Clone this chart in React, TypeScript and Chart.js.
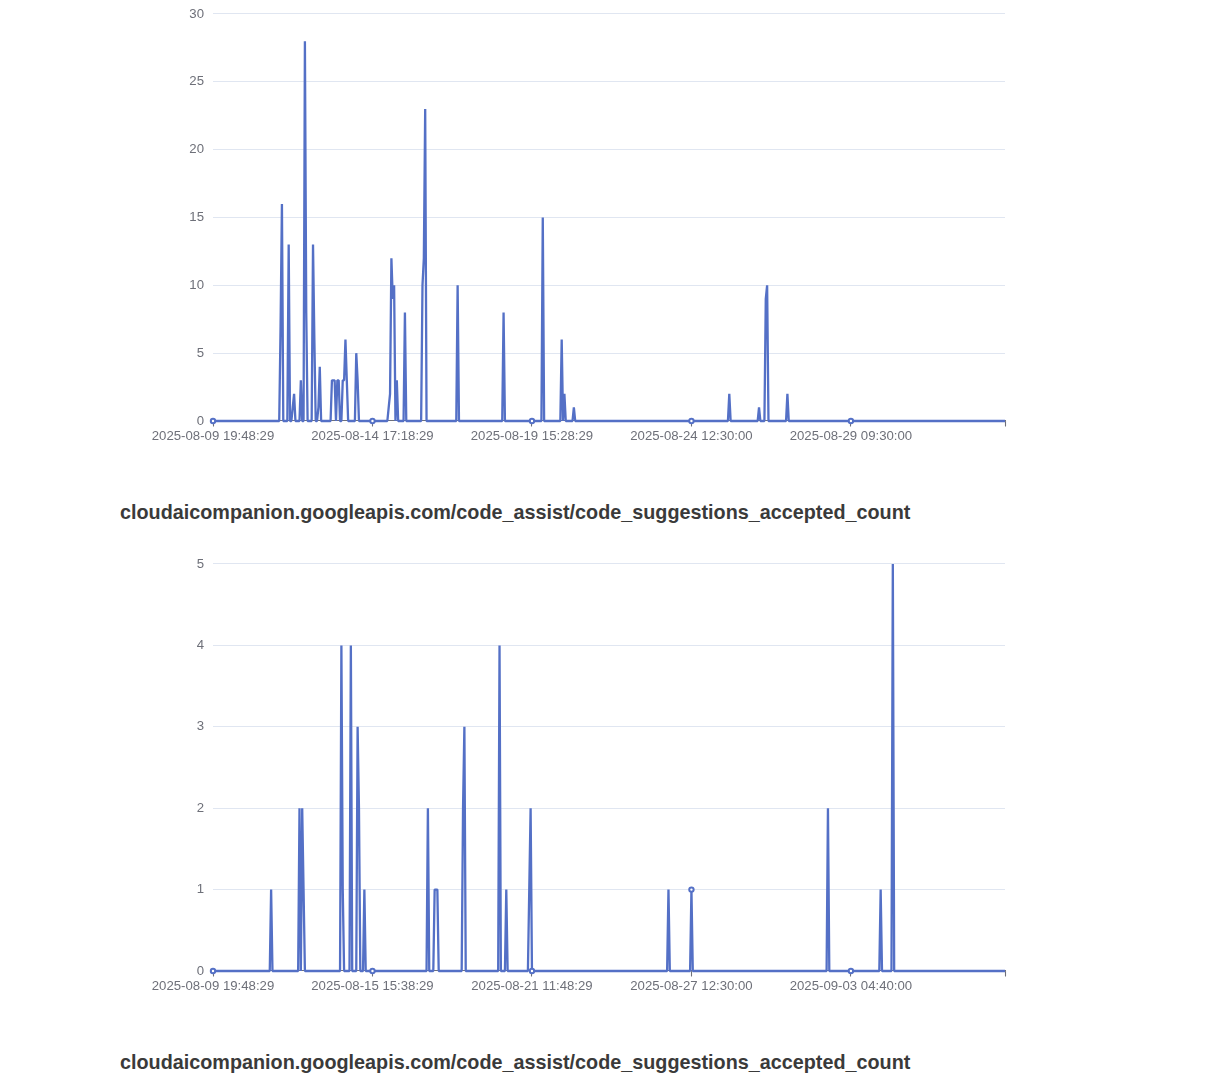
import React, { useEffect, useRef } from "react";
import { Chart, registerables } from "chart.js";

Chart.register(...registerables);

// ---- data ----
const POINT_COUNT = 587;
const LABEL_STEP = 118;
const TITLE = "cloudaicompanion.googleapis.com/code_assist/code_suggestions_accepted_count";

const topLabels = [
  "2025-08-09 19:48:29",
  "2025-08-14 17:18:29",
  "2025-08-19 15:28:29",
  "2025-08-24 12:30:00",
  "2025-08-29 09:30:00",
];
const topIndex = [50, 51, 56, 59, 60, 65, 68, 69, 74, 75, 78, 79, 88, 89, 90, 92, 93, 96, 97, 98, 99, 106, 107, 130, 131, 132, 133, 134, 136, 142, 155, 156, 157, 181, 215, 244, 258, 260, 267, 382, 404, 409, 410, 425];
const topValue = [7, 16, 13, 1, 2, 3, 28, 8, 13, 6, 1, 4, 3, 3, 3, 3, 3, 3, 3, 6, 3, 5, 3, 1, 2, 12, 9, 10, 3, 8, 10, 12, 23, 10, 8, 15, 6, 2, 1, 2, 1, 9, 10, 2];
const topYMax = 30;
const topYStep = 5;

const bottomLabels = [
  "2025-08-09 19:48:29",
  "2025-08-15 15:38:29",
  "2025-08-21 11:48:29",
  "2025-08-27 12:30:00",
  "2025-09-03 04:40:00",
];
const bottomIndex = [43, 64, 66, 67, 95, 96, 102, 107, 108, 112, 159, 164, 165, 166, 185, 186, 212, 217, 234, 235, 337, 354, 455, 494, 503];
const bottomValue = [1, 2, 2, 1, 4, 1, 4, 3, 2, 1, 2, 1, 1, 1, 2, 3, 4, 1, 1, 2, 1, 1, 2, 1, 5];
const bottomYMax = 5;
const bottomYStep = 1;

// ---- styles ----
const BLUE = "#5470c6";
const AXIS_GRAY = "#6E7079";
const GRID = "#E0E6F1";
const FONT = '"Liberation Sans", Arial, Helvetica, sans-serif';

function buildSeries(idx: number[], vals: number[]) {
  const arr: number[] = new Array(POINT_COUNT).fill(0);
  idx.forEach((i, k) => {
    arr[i] = vals[k];
  });
  return arr.map((y, x) => ({ x, y }));
}

function LineBlock(props: {
  labels: string[];
  idx: number[];
  vals: number[];
  yMax: number;
  yStep: number;
  top: number;
}) {
  const ref = useRef<HTMLCanvasElement | null>(null);
  const { labels, idx, vals, yMax, yStep, top } = props;

  useEffect(() => {
    if (!ref.current) return;
    const data = buildSeries(idx, vals);
    const labelCount = labels.length;
    const chart = new Chart(ref.current, {
      type: "line",
      data: {
        datasets: [
          {
            data,
            borderColor: BLUE,
            borderWidth: 2.3,
            borderJoinStyle: "bevel",
            tension: 0,
            fill: false,
            clip: false as any,
            pointRadius: (c: any) =>
              c.dataIndex % LABEL_STEP === 0 && c.dataIndex / LABEL_STEP < labelCount ? 2.2 : 0,
            pointBackgroundColor: "#ffffff",
            pointBorderColor: BLUE,
            pointBorderWidth: 2,
            pointHoverRadius: 0,
          },
        ],
      },
      options: {
        animation: false,
        responsive: false,
        events: [],
        layout: { padding: { top: 14, right: 25, left: 0, bottom: 0 } },
        plugins: { legend: { display: false }, tooltip: { enabled: false }, title: { display: false } },
        scales: {
          x: {
            type: "linear",
            min: 0,
            max: POINT_COUNT - 1,
            afterFit: (s: any) => {
              s.height = 39;
            },
            afterBuildTicks: (s: any) => {
              const t = labels.map((_, i) => ({ value: i * LABEL_STEP }));
              t.push({ value: POINT_COUNT - 1 });
              s.ticks = t;
            },
            grid: {
              display: true,
              drawOnChartArea: false,
              drawTicks: true,
              tickLength: 5.5,
              tickColor: AXIS_GRAY,
              tickWidth: 1.1,
            },
            border: { display: true, color: AXIS_GRAY, width: 1.1 },
            ticks: {
              autoSkip: false,
              maxRotation: 0,
              minRotation: 0,
              padding: 1.5,
              color: AXIS_GRAY,
              font: { family: FONT, size: 13.2 },
              callback: (v: any) => {
                const n = Number(v);
                if (n % LABEL_STEP === 0 && n / LABEL_STEP < labels.length) return labels[n / LABEL_STEP];
                return "";
              },
            },
          },
          y: {
            type: "linear",
            min: 0,
            max: yMax,
            afterFit: (s: any) => {
              s.width = 63;
              s.paddingTop = 0;
              s.paddingBottom = 0;
            },
            grid: { color: GRID, lineWidth: 1.1, drawTicks: false },
            border: { display: false },
            ticks: {
              stepSize: yStep,
              padding: 9,
              color: AXIS_GRAY,
              font: { family: FONT, size: 13.2 },
            },
          },
        },
      },
    } as any);
    return () => chart.destroy();
  }, []);

  return (
    <canvas
      ref={ref}
      width={880}
      height={460}
      style={{ position: "absolute", left: 150, top, width: 880, height: 460 }}
    />
  );
}

function Title(props: { top: number }) {
  return (
    <div
      style={{
        position: "absolute",
        left: 120,
        top: props.top,
        fontFamily: FONT,
        fontWeight: "bold",
        fontSize: 19.8,
        lineHeight: "20px",
        color: "#3a3a3a",
        whiteSpace: "nowrap",
      }}
    >
      {TITLE}
    </div>
  );
}

export default function App() {
  return (
    <div
      style={{
        position: "absolute",
        left: 0,
        top: 0,
        width: 1208,
        height: 1081,
        background: "#ffffff",
        overflow: "hidden",
      }}
    >
      <LineBlock labels={topLabels} idx={topIndex} vals={topValue} yMax={topYMax} yStep={topYStep} top={0} />
      <Title top={502} />
      <LineBlock
        labels={bottomLabels}
        idx={bottomIndex}
        vals={bottomValue}
        yMax={bottomYMax}
        yStep={bottomYStep}
        top={550}
      />
      <Title top={1052} />
    </div>
  );
}
